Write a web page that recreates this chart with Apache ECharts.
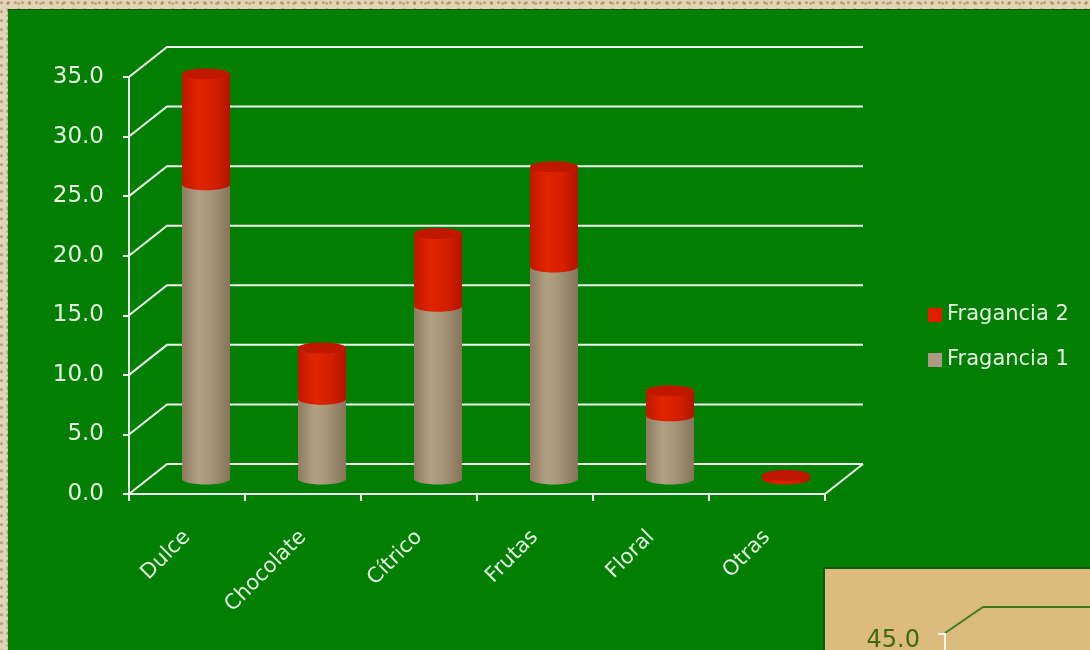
<!DOCTYPE html>
<html>
<head>
<meta charset="utf-8">
<script src="https://cdn.jsdelivr.net/npm/echarts@6/dist/echarts.min.js"></script>
<style>
  html, body { margin: 0; padding: 0; width: 1090px; height: 650px; overflow: hidden; }
  body {
    background-color: #e2d4b4;
    background-image:
      radial-gradient(circle at 20% 30%, rgba(140,105,65,0.45) 0 1px, transparent 2px),
      radial-gradient(circle at 70% 60%, rgba(115,90,55,0.35) 0 1px, transparent 2px);
    background-size: 7px 9px, 11px 6px;
    position: relative;
  }
  #panel { position: absolute; left: 8px; top: 10px; width: 1082px; height: 640px; background: #027f02; box-shadow: 0 -1px 0 #0a5a0a; }
  #chart { position: absolute; left: 0; top: 0; width: 1090px; height: 650px; }
</style>
</head>
<body>
<div id="panel"></div>
<div id="chart"></div>
<script>
// Aroma categories and the share of each fragrance (percent)
const categories = ['Dulce', 'Chocolate', 'Cítrico', 'Frutas', 'Floral', 'Otras'];
const fragancia1 = [24.7, 6.7, 14.5, 17.8, 5.3, 0];
const fragancia2 = [9.3, 4.3, 6.1, 8.4, 2.1, 0.3];
const seriesNames = ['Fragancia 1', 'Fragancia 2'];

// depth of the 3D box (back wall offset)
const DX = 38, DY = 30;
const R = 24, RY = 5.5;
const LINE = '#eefdee';
const TEXT = '#e3f7e3';
const FONT = 'DejaVu Sans, Verdana, sans-serif';

const chart = echarts.init(document.getElementById('chart'), null, { renderer: 'canvas' });

function ellipsePts(cx, cy, rx, ry, a0, a1, n) {
  const pts = [];
  for (let k = 0; k <= n; k++) {
    const a = a0 + (a1 - a0) * k / n;
    pts.push([cx + rx * Math.cos(a), cy + ry * Math.sin(a)]);
  }
  return pts;
}

function cylinderRenderer(bodyStops, topColor) {
  return function (params, api) {
    const i = api.value(0), v = api.value(1), b = api.value(2);
    if (!(v > 0)) return null;
    const cx = api.coord([i, 0])[0] + DX / 2;
    const y0 = api.coord([i, b])[1] - DY / 2;
    const y1 = api.coord([i, b + v])[1] - DY / 2;
    const body = [[cx - R, y1], [cx - R, y0]]
      .concat(ellipsePts(cx, y0, R, RY, Math.PI, 0, 24))
      .concat([[cx + R, y1]]);
    return {
      type: 'group',
      children: [
        {
          type: 'polygon',
          shape: { points: body },
          style: { fill: { type: 'linear', x: 0, y: 0, x2: 1, y2: 0, colorStops: bodyStops } }
        },
        {
          type: 'polygon',
          shape: { points: ellipsePts(cx, y1, R, RY, 0, Math.PI * 2, 40) },
          style: { fill: topColor }
        }
      ]
    };
  };
}

function wallsRenderer(params, api) {
  const cs = params.coordSys;
  const gx = cs.x, gw = cs.width;
  const children = [];
  for (let t = 0; t <= 35; t += 5) {
    const y = api.coord([0, t])[1];
    children.push({
      type: 'polyline',
      shape: { points: [[gx, y], [gx + DX, y - DY], [gx + gw + DX, y - DY]] },
      style: { stroke: LINE, lineWidth: 2, fill: null }
    });
  }
  const yb = api.coord([0, 0])[1];
  children.push({
    type: 'line',
    shape: { x1: gx + gw, y1: yb, x2: gx + gw + DX, y2: yb - DY },
    style: { stroke: LINE, lineWidth: 2 }
  });
  return { type: 'group', children: children };
}

const tanStops = [
  { offset: 0, color: '#8d7b62' },
  { offset: 0.35, color: '#b3a183' },
  { offset: 0.6, color: '#a89578' },
  { offset: 1, color: '#85735b' }
];
const redStops = [
  { offset: 0, color: '#c01800' },
  { offset: 0.35, color: '#e02400' },
  { offset: 0.7, color: '#d31e00' },
  { offset: 1, color: '#b21400' }
];

const option = {
  animation: false,
  grid: { left: 129, right: 265, top: 77, bottom: 156, containLabel: false },
  legend: {
    data: [
      { name: 'Fragancia 2', icon: 'rect', itemStyle: { color: '#e01e00' } },
      { name: 'Fragancia 1', icon: 'rect', itemStyle: { color: '#ad9985' } }
    ],
    orient: 'vertical',
    left: 923, top: 299,
    itemWidth: 14, itemHeight: 14, itemGap: 23,
    textStyle: { color: TEXT, fontSize: 21, fontFamily: FONT, lineHeight: 22 },
    selectedMode: false
  },
  xAxis: {
    type: 'category',
    data: categories,
    boundaryGap: true,
    axisLine: { lineStyle: { color: LINE, width: 2 } },
    axisTick: { show: true, length: 7, lineStyle: { color: LINE, width: 2 } },
    axisLabel: { rotate: 45, margin: 40, color: TEXT, fontSize: 21, fontFamily: FONT, interval: 0 },
    splitLine: { show: false }
  },
  yAxis: {
    type: 'value',
    min: 0, max: 35, interval: 5,
    axisLine: { show: true, lineStyle: { color: LINE, width: 2 } },
    axisTick: { show: true, length: 6, lineStyle: { color: LINE, width: 2 } },
    axisLabel: { formatter: v => v.toFixed(1), margin: 25, color: TEXT, fontSize: 23, fontFamily: FONT },
    splitLine: { show: false }
  },
  series: [
    {
      name: 'walls', type: 'custom', z: 1, silent: true,
      data: [[0, 0]],
      renderItem: wallsRenderer
    },
    {
      name: seriesNames[0], type: 'custom', z: 3,
      itemStyle: { color: '#ad9985' },
      data: categories.map((c, i) => [i, fragancia1[i], 0]),
      renderItem: cylinderRenderer(tanStops, '#a08d72')
    },
    {
      name: seriesNames[1], type: 'custom', z: 4,
      itemStyle: { color: '#e01e00' },
      data: categories.map((c, i) => [i, fragancia2[i], fragancia1[i]]),
      renderItem: cylinderRenderer(redStops, '#c01800')
    }
  ],
  graphic: [
    {
      type: 'rect', z: 0,
      shape: { x: 824, y: 568, width: 270, height: 90 },
      style: { fill: '#dbbc7e', stroke: '#0c5c0c', lineWidth: 2 }
    },
    {
      type: 'polyline', z: 1,
      shape: { points: [[945, 633], [983, 607], [1092, 607]] },
      style: { stroke: '#3b7d1c', lineWidth: 2, fill: null }
    },
    {
      type: 'polyline', z: 1,
      shape: { points: [[938, 634], [945, 634], [945, 652]] },
      style: { stroke: '#f4f4ea', lineWidth: 2, fill: null }
    },
    {
      type: 'text', z: 1,
      style: { text: '45.0', x: 920, y: 653, textAlign: 'right', textVerticalAlign: 'bottom',
               fill: '#3f6a12', fontSize: 24, fontFamily: FONT }
    }
  ]
};

chart.setOption(option);
</script>
</body>
</html>
